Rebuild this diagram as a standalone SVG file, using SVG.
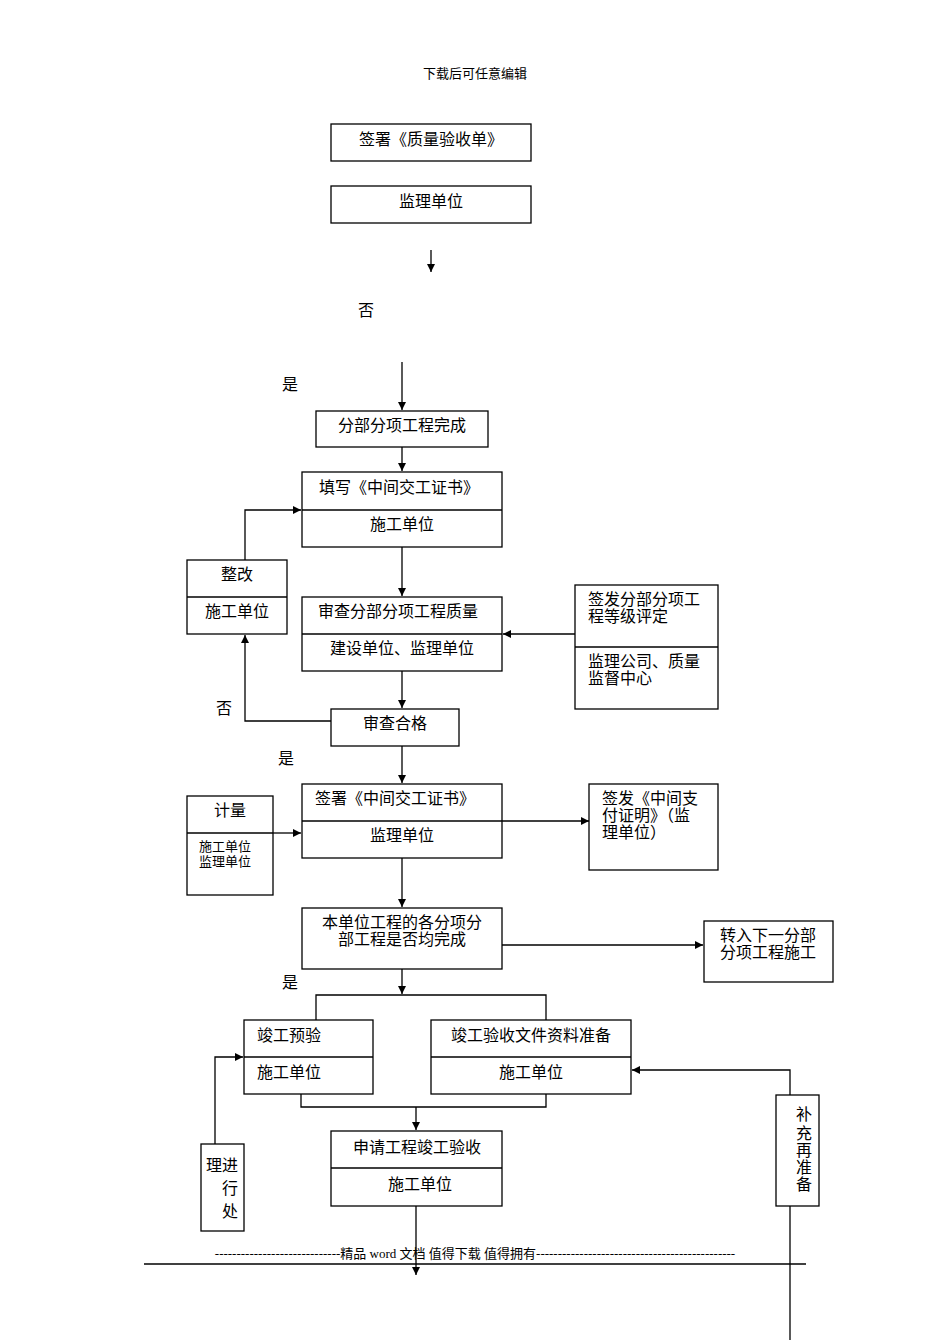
<svg xmlns="http://www.w3.org/2000/svg" width="950" height="1344" viewBox="0 0 950 1344">
<style>
text{font-family:"Liberation Serif","Noto Sans CJK SC",serif;font-size:16px;fill:#000}
.c{text-anchor:middle}
.s{font-size:13px}
rect{fill:#fff;stroke:#000;stroke-width:1.3}
.n line{stroke:#000;stroke-width:1.3}
#conn path{fill:none;stroke:#000;stroke-width:1.3}
</style>
<defs><marker id="a" viewBox="0 0 10 10" refX="10" refY="5" markerWidth="8" markerHeight="8" orient="auto" markerUnits="userSpaceOnUse"><path d="M0,0L10,5L0,10z" fill="#000"/></marker></defs>
<rect x="0" y="0" width="950" height="1344" style="stroke:none"/>
<text x="475" y="78" class="c s">下载后可任意编辑</text>
<g id="conn">
<path d="M431,250V272" marker-end="url(#a)"/>
<path d="M402,362V410" marker-end="url(#a)"/>
<path d="M402,447V471" marker-end="url(#a)"/>
<path d="M245,560V510H301" marker-end="url(#a)"/>
<path d="M402,547V596" marker-end="url(#a)"/>
<path d="M575,634H503" marker-end="url(#a)"/>
<path d="M402,671V708" marker-end="url(#a)"/>
<path d="M331,721H245V635" marker-end="url(#a)"/>
<path d="M402,746V783" marker-end="url(#a)"/>
<path d="M273,833H301" marker-end="url(#a)"/>
<path d="M502,821H589" marker-end="url(#a)"/>
<path d="M402,858V907" marker-end="url(#a)"/>
<path d="M502,945H703" marker-end="url(#a)"/>
<path d="M402,969V994" marker-end="url(#a)"/>
<path d="M316,1020V995H546V1020"/>
<path d="M301,1094V1107H546V1094"/>
<path d="M416,1107V1130" marker-end="url(#a)"/>
<path d="M416,1206V1275" marker-end="url(#a)"/>
<path d="M215,1144V1057H243" marker-end="url(#a)"/>
<path d="M790,1095V1070H632" marker-end="url(#a)"/>
<path d="M790,1340V1143" marker-end="url(#a)"/>
</g>
<text x="366" y="316" class="c">否</text>
<text x="290" y="390" class="c">是</text>
<text x="224" y="714" class="c">否</text>
<text x="286" y="764" class="c">是</text>
<text x="290" y="988" class="c">是</text>
<g id="n1" class="n"><rect x="331" y="124" width="200" height="37"/><text x="431" y="145" class="c">签署《质量验收单》</text></g>
<g id="n2" class="n"><rect x="331" y="186" width="200" height="37"/><text x="431" y="207" class="c">监理单位</text></g>
<g id="n3" class="n"><rect x="316" y="411" width="172" height="36"/><text x="402" y="431" class="c">分部分项工程完成</text></g>
<g id="n4" class="n"><rect x="302" y="472" width="200" height="75"/><line x1="302" y1="510" x2="502" y2="510"/><text x="399" y="493" class="c">填写《中间交工证书》</text><text x="402" y="530" class="c">施工单位</text></g>
<g id="n5" class="n"><rect x="187" y="560" width="100" height="74"/><line x1="187" y1="597" x2="287" y2="597"/><text x="237" y="580" class="c">整改</text><text x="237" y="617" class="c">施工单位</text></g>
<g id="n6" class="n"><rect x="302" y="597" width="200" height="74"/><line x1="302" y1="634" x2="502" y2="634"/><text x="398" y="617" class="c">审查分部分项工程质量</text><text x="402" y="654" class="c">建设单位、监理单位</text></g>
<g id="n7" class="n"><rect x="575" y="585" width="143" height="124"/><line x1="575" y1="647" x2="718" y2="647"/><text x="588" y="605">签发分部分项工</text><text x="588" y="622">程等级评定</text><text x="588" y="667">监理公司、质量</text><text x="588" y="684">监督中心</text></g>
<g id="n8" class="n"><rect x="331" y="709" width="128" height="37"/><text x="395" y="729" class="c">审查合格</text></g>
<g id="n9" class="n"><rect x="302" y="784" width="200" height="74"/><line x1="302" y1="821" x2="502" y2="821"/><text x="395" y="804" class="c">签署《中间交工证书》</text><text x="402" y="841" class="c">监理单位</text></g>
<g id="n10" class="n"><rect x="187" y="796" width="86" height="99"/><line x1="187" y1="833" x2="273" y2="833"/><text x="230" y="816" class="c">计量</text><text x="199" y="851" class="s">施工单位</text><text x="199" y="866" class="s">监理单位</text></g>
<g id="n11" class="n"><rect x="589" y="784" width="129" height="86"/><text x="602" y="804">签发《中间支</text><text x="602" y="821">付证明》（监</text><text x="602" y="838">理单位）</text></g>
<g id="n12" class="n"><rect x="302" y="908" width="200" height="61"/><text x="402" y="928" class="c">本单位工程的各分项分</text><text x="402" y="945" class="c">部工程是否均完成</text></g>
<g id="n13" class="n"><rect x="704" y="921" width="129" height="61"/><text x="768" y="941" class="c">转入下一分部</text><text x="768" y="958" class="c">分项工程施工</text></g>
<g id="n14" class="n"><rect x="244" y="1020" width="129" height="74"/><line x1="244" y1="1057" x2="373" y2="1057"/><text x="257" y="1041">竣工预验</text><text x="257" y="1078">施工单位</text></g>
<g id="n15" class="n"><rect x="431" y="1020" width="200" height="74"/><line x1="431" y1="1057" x2="631" y2="1057"/><text x="531" y="1041" class="c">竣工验收文件资料准备</text><text x="531" y="1078" class="c">施工单位</text></g>
<g id="n16" class="n"><rect x="331" y="1131" width="171" height="75"/><line x1="331" y1="1168" x2="502" y2="1168"/><text x="417" y="1153" class="c">申请工程竣工验收</text><text x="420" y="1190" class="c">施工单位</text></g>
<g id="n17" class="n"><rect x="201" y="1144" width="43" height="87"/><text x="206" y="1171">理进</text><text x="222" y="1194">行</text><text x="222" y="1217">处</text></g>
<g id="n18" class="n"><rect x="776" y="1095" width="43" height="111"/><text x="804" y="1120" class="c">补</text><text x="804" y="1139" class="c">充</text><text x="804" y="1156" class="c">再</text><text x="804" y="1173" class="c">准</text><text x="804" y="1190" class="c">备</text></g>
<text x="475" y="1258" class="c s">-----------------------------精品 word 文档 值得下载 值得拥有----------------------------------------------</text>
<line x1="144" y1="1264" x2="806" y2="1264" stroke="#000" stroke-width="1.3"/>
</svg>
